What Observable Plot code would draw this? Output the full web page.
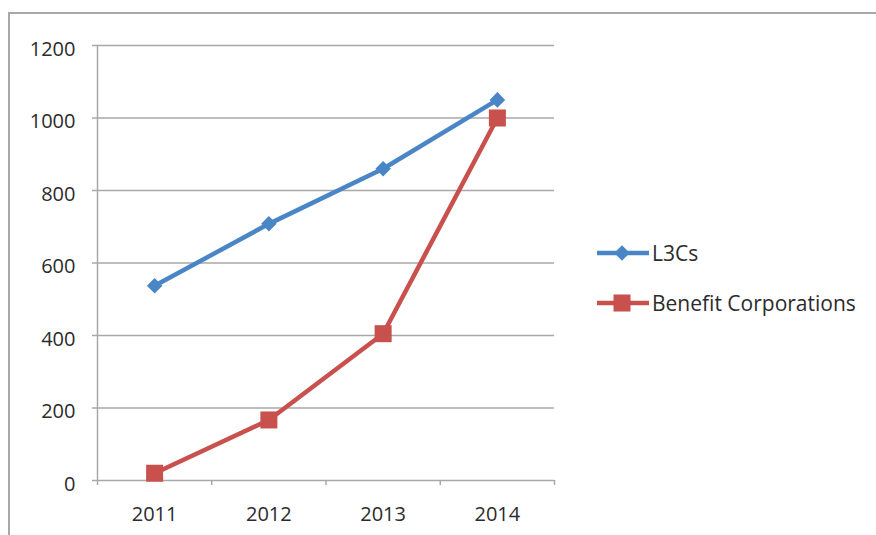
<!DOCTYPE html>
<html>
<head>
<meta charset="utf-8">
<script src="https://cdn.jsdelivr.net/npm/d3@7"></script>
<script src="https://cdn.jsdelivr.net/npm/@observablehq/plot@0.6"></script>
<style>
  body { margin: 0; background: #fff; font-family: "Open Sans", Lato, sans-serif; }
  #wrap { position: relative; width: 876px; height: 535px; overflow: hidden; background: #fff; }
  #border { position: absolute; left: 8px; top: 12px; width: 920px; height: 580px;
            border: 2px solid #a8a8a8; box-sizing: border-box; }
  #chart { position: absolute; left: 0; top: 0; }
  #legend { position: absolute; left: 597px; top: 228px; font-size: 21px; color: #2b2b2b; }
  .row { display: flex; align-items: center; height: 50px; }
  .row svg { flex: none; }
  .row span { margin-left: 3px; white-space: nowrap; }
</style>
</head>
<body>
<div id="wrap">
  <div id="border"></div>
  <div id="chart"></div>
  <div id="legend"></div>
</div>
<script>
// Registered L3Cs and benefit corporations per year
const years = [2011, 2012, 2013, 2014];
const l3cCounts = [537, 708, 860, 1050];
const benefitCounts = [20, 167, 405, 1000];
const yTicks = [0, 200, 400, 600, 800, 1000, 1200];
const seriesNames = ["L3Cs", "Benefit Corporations"];
const seriesColors = ["#4a86c6", "#c8504d"];
const seriesSymbols = ["diamond2", "square"];

const rows = [
  ...years.map((year, i) => ({series: seriesNames[0], year, value: l3cCounts[i]})),
  ...years.map((year, i) => ({series: seriesNames[1], year, value: benefitCounts[i]}))
];
// category boundaries for the small divider ticks on the x axis
const bounds = [years[0] - 0.5, ...years.map(y => y + 0.5)];

const grey = "#a8a8a8";
const text = "#2b2b2b";

const chart = Plot.plot({
  width: 876,
  height: 535,
  marginLeft: 97,
  marginRight: 322,
  marginTop: 45,
  marginBottom: 55,
  style: {fontFamily: "'Open Sans', Lato, sans-serif", background: "transparent", color: text},
  x: {type: "linear", domain: [bounds[0], bounds[bounds.length - 1]], axis: null},
  y: {domain: [0, 1200], axis: null},
  color: {domain: seriesNames, range: seriesColors},
  symbol: {domain: seriesNames, range: seriesSymbols},
  marks: [
    Plot.gridY(yTicks, {stroke: grey, strokeOpacity: 1, strokeWidth: 1.5}),
    Plot.ruleX([bounds[0]], {stroke: grey, strokeWidth: 1.5}),
    Plot.axisY(yTicks, {tickSize: 5, tickFormat: () => "", stroke: grey, strokeWidth: 1.5, label: null}),
    Plot.axisY(yTicks, {tickSize: 0, tickPadding: 22, tickFormat: "d", fontSize: 20, fill: text, dy: 4, label: null}),
    Plot.axisX(bounds, {tickSize: 5, tickFormat: () => "", stroke: grey, strokeWidth: 1.5, label: null}),
    Plot.axisX(years, {tickSize: 0, tickPadding: 26, tickFormat: "d", fontSize: 20, fill: text, label: null}),
    Plot.line(rows, {x: "year", y: "value", z: "series", stroke: "series", strokeWidth: 4.5}),
    Plot.dot(rows.filter(d => d.series === seriesNames[0]),
      {x: "year", y: "value", symbol: "series", fill: "series", stroke: "none", r: 7}),
    Plot.dot(rows.filter(d => d.series === seriesNames[1]),
      {x: "year", y: "value", symbol: "series", fill: "series", stroke: "none", r: 9.6})
  ]
});
document.getElementById("chart").append(chart);

// legend: line swatch with marker, then the series name
const legend = d3.select("#legend");
seriesNames.forEach((name, i) => {
  const row = legend.append("div").attr("class", "row");
  const svg = row.append("svg").attr("width", 52).attr("height", 20);
  svg.append("line").attr("x1", 0).attr("x2", 52).attr("y1", 10).attr("y2", 10)
    .attr("stroke", seriesColors[i]).attr("stroke-width", 4.5);
  const size = i === 0 ? Math.PI * 7 * 7 : Math.PI * 9.6 * 9.6;
  const sym = i === 0 ? d3.symbolDiamond2 : d3.symbolSquare;
  svg.append("path").attr("transform", "translate(25,10)")
    .attr("d", d3.symbol(sym, size)()).attr("fill", seriesColors[i]);
  row.append("span").text(name);
});
</script>
</body>
</html>
